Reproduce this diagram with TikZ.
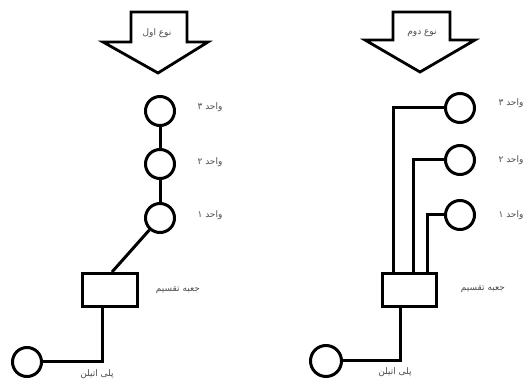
\documentclass[tikz,border=0pt]{standalone}
\usepackage{fontspec}
\newfontfamily\arabicfont[Script=Arabic]{DejaVu Sans}
\TeXXeTstate=1
\begin{document}
\begin{tikzpicture}[x=1pt,y=-1pt,
  pipe/.style={line width=3pt},
  unit/.style={circle,draw,line width=3pt,minimum size=29pt,inner sep=0pt,fill=white},
  boxx/.style={rectangle,draw,line width=3pt,minimum width=55pt,minimum height=33pt,inner sep=0pt,fill=white},
  lbl/.style={font=\arabicfont\fontsize{9}{10}\selectfont,text=black!70,inner sep=0pt},
  bigarrow/.style={draw,line width=2.8pt,fill=white,line join=miter}]
\useasboundingbox (0,0) rectangle (531,382);
% arrows
\draw[bigarrow] (131,12) -- (187,12) -- (187,42) -- (208,42) -- (158,73) -- (103,42) -- (131,42) -- cycle;
\node[lbl] (t1) at (157,33) {\beginR نوع اول\endR};
\draw[bigarrow] (393,12) -- (450,12) -- (450,40) -- (475,40) -- (420,72) -- (365,40) -- (393,40) -- cycle;
\node[lbl] (t2) at (422,33) {\beginR نوع دوم\endR};
% left system
\node[unit] (c3) at (160,111) {};
\node[unit] (c2) at (160,164) {};
\node[unit] (c1) at (160,218) {};
\node[boxx] (b1) at (110,290) {};
\node[unit] (m1) at (27,362) {};
\draw[pipe] (c3) -- (c2);
\draw[pipe] (c2) -- (c1);
\draw[pipe] (c1) -- ([xshift=2pt]b1.north);
\draw[pipe] ([xshift=-8pt]b1.south) |- (m1);
\node[lbl] (l3) at (210,107) {\beginR واحد ۳\endR};
\node[lbl] (l2) at (210,162) {\beginR واحد ۲\endR};
\node[lbl] (l1) at (210,215) {\beginR واحد ۱\endR};
\node[lbl] (lb1) at (178,290) {\beginR جعبه تقسیم\endR};
\node[lbl] (lp1) at (97,374) {\beginR پلی اتیلن\endR};
% right system
\node[unit] (r3) at (460,108) {};
\node[unit] (r2) at (460,160) {};
\node[unit] (r1) at (460,215) {};
\node[boxx,minimum width=54pt] (b2) at (409,290) {};
\node[unit,minimum size=31pt] (m2) at (326,361) {};
\draw[pipe] ([xshift=-16pt]b2.north) |- (r3);
\draw[pipe] ([xshift=4pt]b2.north) |- (r2);
\draw[pipe] ([xshift=18pt]b2.north) |- (r1);
\draw[pipe] ([xshift=-9pt]b2.south) |- (m2);
\node[lbl] (q3) at (511,103) {\beginR واحد ۳\endR};
\node[lbl] (q2) at (511,160) {\beginR واحد ۲\endR};
\node[lbl] (q1) at (511,215) {\beginR واحد ۱\endR};
\node[lbl] (lb2) at (483,289) {\beginR جعبه تقسیم\endR};
\node[lbl] (lp2) at (395,372) {\beginR پلی اتیلن\endR};
\end{tikzpicture}
\end{document}
